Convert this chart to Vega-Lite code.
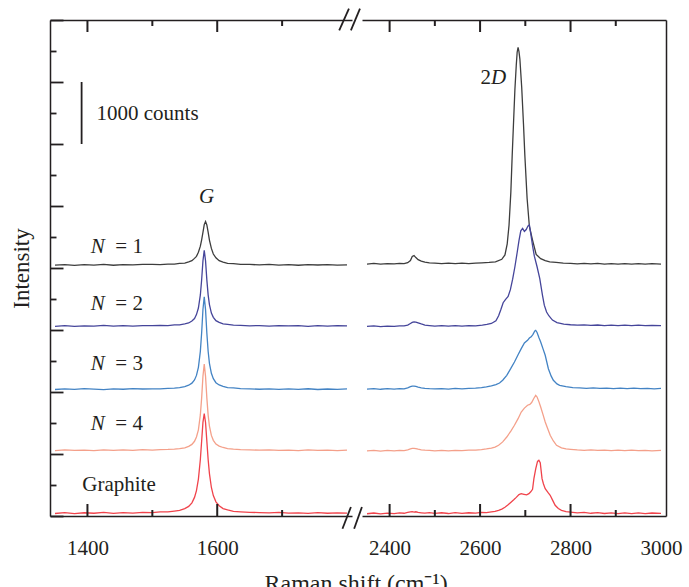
{
  "$schema": "https://vega.github.io/schema/vega-lite/v6.json",
  "background": "white",
  "padding": {"left": 10, "top": 7, "right": 5, "bottom": 5},
  "bounds": "flush",
  "spacing": 10,
  "config": {
    "view": {"stroke": null},
    "font": "Liberation Serif",
    "text": {"font": "Liberation Serif"},
    "axis": {"domainColor": "#231f20", "domainWidth": 1.5, "tickColor": "#231f20", "tickWidth": 1.8, "labelFont": "Liberation Serif", "labelFontSize": 21, "labelColor": "#231f20", "labelPadding": 21, "labelFlush": false, "titleFont": "Liberation Serif", "titleFontSize": 23, "titleFontWeight": "normal", "titleColor": "#231f20", "gridColor": "#231f20", "gridWidth": 1.5}
  },
  "title": {"text": "Raman shift (cm⁻¹)", "orient": "bottom", "anchor": "middle", "font": "Liberation Serif", "fontSize": 24, "fontWeight": "normal", "color": "#231f20", "offset": 14, "dx": 10},
  "datasets": {
    "spec": [
      {"s":"N1","x":1350,"y":4045},{"s":"N1","x":1365,"y":4056},{"s":"N1","x":1380,"y":4042},{"s":"N1","x":1395,"y":4053},{"s":"N1","x":1410,"y":4047},{"s":"N1","x":1425,"y":4058},{"s":"N1","x":1440,"y":4044},{"s":"N1","x":1455,"y":4055},{"s":"N1","x":1470,"y":4049},{"s":"N1","x":1485,"y":4057},{"s":"N1","x":1500,"y":4058},{"s":"N1","x":1512,"y":4054},{"s":"N1","x":1524,"y":4063},{"s":"N1","x":1534,"y":4062},{"s":"N1","x":1542,"y":4074},{"s":"N1","x":1550,"y":4080},{"s":"N1","x":1556,"y":4099},{"s":"N1","x":1561,"y":4118},{"s":"N1","x":1565,"y":4155},{"s":"N1","x":1568,"y":4188},{"s":"N1","x":1571,"y":4254},{"s":"N1","x":1574,"y":4352},{"s":"N1","x":1576,"y":4455},{"s":"N1","x":1578,"y":4575},{"s":"N1","x":1580,"y":4700},{"s":"N1","x":1582,"y":4750},{"s":"N1","x":1584,"y":4695},{"s":"N1","x":1586,"y":4580},{"s":"N1","x":1588,"y":4450},{"s":"N1","x":1591,"y":4316},{"s":"N1","x":1594,"y":4225},{"s":"N1","x":1598,"y":4165},{"s":"N1","x":1603,"y":4118},{"s":"N1","x":1609,"y":4096},{"s":"N1","x":1616,"y":4076},{"s":"N1","x":1625,"y":4070},{"s":"N1","x":1636,"y":4060},{"s":"N1","x":1650,"y":4058},{"s":"N1","x":1665,"y":4050},{"s":"N1","x":1680,"y":4057},{"s":"N1","x":1695,"y":4046},{"s":"N1","x":1710,"y":4053},{"s":"N1","x":1725,"y":4044},{"s":"N1","x":1740,"y":4055},{"s":"N1","x":1755,"y":4048},{"s":"N1","x":1770,"y":4056},{"s":"N1","x":1785,"y":4045},{"s":"N1","x":1800,"y":4052},
      {"s":"N1","x":2350,"y":4064},{"s":"N1","x":2365,"y":4073},{"s":"N1","x":2380,"y":4061},{"s":"N1","x":2395,"y":4070},{"s":"N1","x":2410,"y":4065},{"s":"N1","x":2422,"y":4076},{"s":"N1","x":2432,"y":4070},{"s":"N1","x":2440,"y":4085},{"s":"N1","x":2446,"y":4120},{"s":"N1","x":2450,"y":4185},{"s":"N1","x":2454,"y":4200},{"s":"N1","x":2458,"y":4168},{"s":"N1","x":2463,"y":4135},{"s":"N1","x":2470,"y":4110},{"s":"N1","x":2478,"y":4095},{"s":"N1","x":2488,"y":4082},{"s":"N1","x":2500,"y":4077},{"s":"N1","x":2515,"y":4069},{"s":"N1","x":2530,"y":4078},{"s":"N1","x":2545,"y":4070},{"s":"N1","x":2560,"y":4079},{"s":"N1","x":2575,"y":4071},{"s":"N1","x":2590,"y":4080},{"s":"N1","x":2604,"y":4084},{"s":"N1","x":2620,"y":4090},{"s":"N1","x":2634,"y":4100},{"s":"N1","x":2648,"y":4140},{"s":"N1","x":2655,"y":4210},{"s":"N1","x":2660,"y":4390},{"s":"N1","x":2664,"y":4690},{"s":"N1","x":2668,"y":5220},{"s":"N1","x":2671,"y":5815},{"s":"N1","x":2674,"y":6350},{"s":"N1","x":2677,"y":6880},{"s":"N1","x":2680,"y":7270},{"s":"N1","x":2682,"y":7480},{"s":"N1","x":2684,"y":7560},{"s":"N1","x":2686,"y":7490},{"s":"N1","x":2688,"y":7370},{"s":"N1","x":2692,"y":6920},{"s":"N1","x":2696,"y":6320},{"s":"N1","x":2699,"y":5815},{"s":"N1","x":2704,"y":5120},{"s":"N1","x":2709,"y":4670},{"s":"N1","x":2716,"y":4450},{"s":"N1","x":2724,"y":4220},{"s":"N1","x":2734,"y":4150},{"s":"N1","x":2744,"y":4118},{"s":"N1","x":2754,"y":4100},{"s":"N1","x":2768,"y":4090},{"s":"N1","x":2784,"y":4080},{"s":"N1","x":2800,"y":4075},{"s":"N1","x":2815,"y":4068},{"s":"N1","x":2830,"y":4076},{"s":"N1","x":2845,"y":4066},{"s":"N1","x":2860,"y":4073},{"s":"N1","x":2875,"y":4064},{"s":"N1","x":2890,"y":4071},{"s":"N1","x":2905,"y":4062},{"s":"N1","x":2920,"y":4070},{"s":"N1","x":2935,"y":4063},{"s":"N1","x":2950,"y":4071},{"s":"N1","x":2965,"y":4062},{"s":"N1","x":2980,"y":4069},{"s":"N1","x":3000,"y":4064},
      {"s":"N2","x":1350,"y":3060},{"s":"N2","x":1365,"y":3072},{"s":"N2","x":1380,"y":3058},{"s":"N2","x":1395,"y":3068},{"s":"N2","x":1410,"y":3062},{"s":"N2","x":1425,"y":3075},{"s":"N2","x":1440,"y":3061},{"s":"N2","x":1455,"y":3070},{"s":"N2","x":1470,"y":3064},{"s":"N2","x":1485,"y":3071},{"s":"N2","x":1500,"y":3069},{"s":"N2","x":1512,"y":3075},{"s":"N2","x":1524,"y":3072},{"s":"N2","x":1534,"y":3082},{"s":"N2","x":1542,"y":3084},{"s":"N2","x":1550,"y":3100},{"s":"N2","x":1556,"y":3114},{"s":"N2","x":1561,"y":3146},{"s":"N2","x":1565,"y":3185},{"s":"N2","x":1568,"y":3248},{"s":"N2","x":1571,"y":3355},{"s":"N2","x":1574,"y":3565},{"s":"N2","x":1576,"y":3810},{"s":"N2","x":1578,"y":4115},{"s":"N2","x":1580,"y":4285},{"s":"N2","x":1582,"y":4117},{"s":"N2","x":1584,"y":3808},{"s":"N2","x":1586,"y":3567},{"s":"N2","x":1588,"y":3410},{"s":"N2","x":1591,"y":3272},{"s":"N2","x":1594,"y":3205},{"s":"N2","x":1598,"y":3150},{"s":"N2","x":1603,"y":3124},{"s":"N2","x":1609,"y":3098},{"s":"N2","x":1616,"y":3090},{"s":"N2","x":1625,"y":3078},{"s":"N2","x":1636,"y":3076},{"s":"N2","x":1650,"y":3068},{"s":"N2","x":1665,"y":3072},{"s":"N2","x":1680,"y":3063},{"s":"N2","x":1695,"y":3070},{"s":"N2","x":1710,"y":3066},{"s":"N2","x":1725,"y":3072},{"s":"N2","x":1740,"y":3060},{"s":"N2","x":1755,"y":3069},{"s":"N2","x":1770,"y":3064},{"s":"N2","x":1785,"y":3071},{"s":"N2","x":1800,"y":3066},
      {"s":"N2","x":2350,"y":3058},{"s":"N2","x":2365,"y":3066},{"s":"N2","x":2380,"y":3055},{"s":"N2","x":2395,"y":3064},{"s":"N2","x":2410,"y":3059},{"s":"N2","x":2422,"y":3068},{"s":"N2","x":2432,"y":3066},{"s":"N2","x":2440,"y":3080},{"s":"N2","x":2446,"y":3105},{"s":"N2","x":2450,"y":3122},{"s":"N2","x":2454,"y":3132},{"s":"N2","x":2458,"y":3128},{"s":"N2","x":2463,"y":3115},{"s":"N2","x":2470,"y":3098},{"s":"N2","x":2478,"y":3080},{"s":"N2","x":2488,"y":3072},{"s":"N2","x":2500,"y":3064},{"s":"N2","x":2515,"y":3070},{"s":"N2","x":2530,"y":3061},{"s":"N2","x":2545,"y":3069},{"s":"N2","x":2560,"y":3063},{"s":"N2","x":2575,"y":3071},{"s":"N2","x":2590,"y":3068},{"s":"N2","x":2605,"y":3080},{"s":"N2","x":2615,"y":3090},{"s":"N2","x":2625,"y":3105},{"s":"N2","x":2635,"y":3150},{"s":"N2","x":2641,"y":3230},{"s":"N2","x":2646,"y":3330},{"s":"N2","x":2651,"y":3440},{"s":"N2","x":2656,"y":3490},{"s":"N2","x":2662,"y":3540},{"s":"N2","x":2667,"y":3650},{"s":"N2","x":2672,"y":3820},{"s":"N2","x":2677,"y":4020},{"s":"N2","x":2682,"y":4250},{"s":"N2","x":2686,"y":4440},{"s":"N2","x":2690,"y":4600},{"s":"N2","x":2694,"y":4640},{"s":"N2","x":2698,"y":4590},{"s":"N2","x":2702,"y":4620},{"s":"N2","x":2706,"y":4680},{"s":"N2","x":2709,"y":4695},{"s":"N2","x":2712,"y":4560},{"s":"N2","x":2716,"y":4360},{"s":"N2","x":2720,"y":4190},{"s":"N2","x":2726,"y":4020},{"s":"N2","x":2732,"y":3830},{"s":"N2","x":2738,"y":3560},{"s":"N2","x":2742,"y":3400},{"s":"N2","x":2747,"y":3290},{"s":"N2","x":2752,"y":3230},{"s":"N2","x":2760,"y":3160},{"s":"N2","x":2770,"y":3120},{"s":"N2","x":2785,"y":3095},{"s":"N2","x":2800,"y":3085},{"s":"N2","x":2815,"y":3078},{"s":"N2","x":2830,"y":3084},{"s":"N2","x":2845,"y":3074},{"s":"N2","x":2860,"y":3081},{"s":"N2","x":2875,"y":3072},{"s":"N2","x":2890,"y":3079},{"s":"N2","x":2905,"y":3071},{"s":"N2","x":2920,"y":3078},{"s":"N2","x":2935,"y":3070},{"s":"N2","x":2950,"y":3077},{"s":"N2","x":2965,"y":3069},{"s":"N2","x":2980,"y":3076},{"s":"N2","x":3000,"y":3071},
      {"s":"N3","x":1350,"y":2040},{"s":"N3","x":1365,"y":2050},{"s":"N3","x":1380,"y":2042},{"s":"N3","x":1395,"y":2053},{"s":"N3","x":1410,"y":2046},{"s":"N3","x":1425,"y":2038},{"s":"N3","x":1440,"y":2051},{"s":"N3","x":1455,"y":2044},{"s":"N3","x":1470,"y":2055},{"s":"N3","x":1485,"y":2048},{"s":"N3","x":1500,"y":2052},{"s":"N3","x":1512,"y":2049},{"s":"N3","x":1524,"y":2060},{"s":"N3","x":1534,"y":2062},{"s":"N3","x":1542,"y":2071},{"s":"N3","x":1550,"y":2087},{"s":"N3","x":1556,"y":2110},{"s":"N3","x":1561,"y":2143},{"s":"N3","x":1565,"y":2195},{"s":"N3","x":1568,"y":2268},{"s":"N3","x":1571,"y":2398},{"s":"N3","x":1574,"y":2656},{"s":"N3","x":1576,"y":2955},{"s":"N3","x":1578,"y":3330},{"s":"N3","x":1580,"y":3535},{"s":"N3","x":1582,"y":3328},{"s":"N3","x":1584,"y":2953},{"s":"N3","x":1586,"y":2658},{"s":"N3","x":1588,"y":2462},{"s":"N3","x":1591,"y":2302},{"s":"N3","x":1594,"y":2215},{"s":"N3","x":1598,"y":2150},{"s":"N3","x":1603,"y":2114},{"s":"N3","x":1609,"y":2090},{"s":"N3","x":1616,"y":2071},{"s":"N3","x":1625,"y":2066},{"s":"N3","x":1636,"y":2055},{"s":"N3","x":1650,"y":2052},{"s":"N3","x":1665,"y":2044},{"s":"N3","x":1680,"y":2051},{"s":"N3","x":1695,"y":2041},{"s":"N3","x":1710,"y":2049},{"s":"N3","x":1725,"y":2043},{"s":"N3","x":1740,"y":2052},{"s":"N3","x":1755,"y":2040},{"s":"N3","x":1770,"y":2048},{"s":"N3","x":1785,"y":2043},{"s":"N3","x":1800,"y":2050},
      {"s":"N3","x":2350,"y":2046},{"s":"N3","x":2365,"y":2055},{"s":"N3","x":2380,"y":2044},{"s":"N3","x":2395,"y":2053},{"s":"N3","x":2410,"y":2047},{"s":"N3","x":2422,"y":2056},{"s":"N3","x":2432,"y":2052},{"s":"N3","x":2440,"y":2066},{"s":"N3","x":2446,"y":2085},{"s":"N3","x":2450,"y":2094},{"s":"N3","x":2454,"y":2096},{"s":"N3","x":2458,"y":2090},{"s":"N3","x":2463,"y":2080},{"s":"N3","x":2470,"y":2068},{"s":"N3","x":2478,"y":2060},{"s":"N3","x":2488,"y":2054},{"s":"N3","x":2500,"y":2049},{"s":"N3","x":2515,"y":2056},{"s":"N3","x":2530,"y":2048},{"s":"N3","x":2545,"y":2057},{"s":"N3","x":2560,"y":2052},{"s":"N3","x":2575,"y":2059},{"s":"N3","x":2590,"y":2061},{"s":"N3","x":2603,"y":2070},{"s":"N3","x":2614,"y":2082},{"s":"N3","x":2625,"y":2100},{"s":"N3","x":2635,"y":2120},{"s":"N3","x":2643,"y":2145},{"s":"N3","x":2650,"y":2190},{"s":"N3","x":2659,"y":2269},{"s":"N3","x":2668,"y":2380},{"s":"N3","x":2676,"y":2484},{"s":"N3","x":2684,"y":2600},{"s":"N3","x":2691,"y":2699},{"s":"N3","x":2698,"y":2790},{"s":"N3","x":2705,"y":2834},{"s":"N3","x":2709,"y":2870},{"s":"N3","x":2713,"y":2890},{"s":"N3","x":2717,"y":2930},{"s":"N3","x":2721,"y":2985},{"s":"N3","x":2723,"y":2995},{"s":"N3","x":2726,"y":2960},{"s":"N3","x":2730,"y":2880},{"s":"N3","x":2734,"y":2807},{"s":"N3","x":2739,"y":2700},{"s":"N3","x":2744,"y":2592},{"s":"N3","x":2751,"y":2376},{"s":"N3","x":2757,"y":2260},{"s":"N3","x":2762,"y":2189},{"s":"N3","x":2770,"y":2130},{"s":"N3","x":2776,"y":2108},{"s":"N3","x":2790,"y":2085},{"s":"N3","x":2805,"y":2072},{"s":"N3","x":2820,"y":2066},{"s":"N3","x":2835,"y":2060},{"s":"N3","x":2850,"y":2066},{"s":"N3","x":2865,"y":2057},{"s":"N3","x":2880,"y":2063},{"s":"N3","x":2895,"y":2055},{"s":"N3","x":2910,"y":2062},{"s":"N3","x":2925,"y":2054},{"s":"N3","x":2940,"y":2061},{"s":"N3","x":2955,"y":2053},{"s":"N3","x":2970,"y":2060},{"s":"N3","x":2985,"y":2052},{"s":"N3","x":3000,"y":2058},
      {"s":"N4","x":1350,"y":1055},{"s":"N4","x":1365,"y":1066},{"s":"N4","x":1380,"y":1058},{"s":"N4","x":1395,"y":1063},{"s":"N4","x":1410,"y":1054},{"s":"N4","x":1425,"y":1067},{"s":"N4","x":1440,"y":1060},{"s":"N4","x":1455,"y":1065},{"s":"N4","x":1470,"y":1057},{"s":"N4","x":1485,"y":1069},{"s":"N4","x":1500,"y":1064},{"s":"N4","x":1512,"y":1071},{"s":"N4","x":1524,"y":1073},{"s":"N4","x":1534,"y":1078},{"s":"N4","x":1542,"y":1087},{"s":"N4","x":1550,"y":1100},{"s":"N4","x":1556,"y":1123},{"s":"N4","x":1561,"y":1155},{"s":"N4","x":1565,"y":1205},{"s":"N4","x":1568,"y":1275},{"s":"N4","x":1571,"y":1390},{"s":"N4","x":1574,"y":1630},{"s":"N4","x":1576,"y":1905},{"s":"N4","x":1578,"y":2255},{"s":"N4","x":1580,"y":2450},{"s":"N4","x":1582,"y":2253},{"s":"N4","x":1584,"y":1905},{"s":"N4","x":1586,"y":1628},{"s":"N4","x":1588,"y":1450},{"s":"N4","x":1591,"y":1300},{"s":"N4","x":1594,"y":1220},{"s":"N4","x":1598,"y":1161},{"s":"N4","x":1603,"y":1127},{"s":"N4","x":1609,"y":1105},{"s":"N4","x":1616,"y":1088},{"s":"N4","x":1625,"y":1079},{"s":"N4","x":1636,"y":1072},{"s":"N4","x":1650,"y":1068},{"s":"N4","x":1665,"y":1061},{"s":"N4","x":1680,"y":1066},{"s":"N4","x":1695,"y":1058},{"s":"N4","x":1710,"y":1064},{"s":"N4","x":1725,"y":1056},{"s":"N4","x":1740,"y":1065},{"s":"N4","x":1755,"y":1059},{"s":"N4","x":1770,"y":1063},{"s":"N4","x":1785,"y":1055},{"s":"N4","x":1800,"y":1062},
      {"s":"N4","x":2350,"y":1050},{"s":"N4","x":2365,"y":1059},{"s":"N4","x":2380,"y":1048},{"s":"N4","x":2395,"y":1057},{"s":"N4","x":2410,"y":1051},{"s":"N4","x":2422,"y":1060},{"s":"N4","x":2432,"y":1056},{"s":"N4","x":2440,"y":1068},{"s":"N4","x":2446,"y":1082},{"s":"N4","x":2450,"y":1090},{"s":"N4","x":2454,"y":1092},{"s":"N4","x":2458,"y":1086},{"s":"N4","x":2463,"y":1078},{"s":"N4","x":2470,"y":1068},{"s":"N4","x":2478,"y":1062},{"s":"N4","x":2488,"y":1057},{"s":"N4","x":2500,"y":1052},{"s":"N4","x":2515,"y":1059},{"s":"N4","x":2530,"y":1051},{"s":"N4","x":2545,"y":1060},{"s":"N4","x":2560,"y":1055},{"s":"N4","x":2575,"y":1062},{"s":"N4","x":2590,"y":1064},{"s":"N4","x":2603,"y":1072},{"s":"N4","x":2614,"y":1082},{"s":"N4","x":2625,"y":1095},{"s":"N4","x":2633,"y":1112},{"s":"N4","x":2641,"y":1140},{"s":"N4","x":2650,"y":1195},{"s":"N4","x":2659,"y":1274},{"s":"N4","x":2668,"y":1370},{"s":"N4","x":2676,"y":1463},{"s":"N4","x":2684,"y":1570},{"s":"N4","x":2691,"y":1677},{"s":"N4","x":2698,"y":1740},{"s":"N4","x":2705,"y":1786},{"s":"N4","x":2710,"y":1800},{"s":"N4","x":2714,"y":1830},{"s":"N4","x":2719,"y":1900},{"s":"N4","x":2723,"y":1947},{"s":"N4","x":2726,"y":1920},{"s":"N4","x":2730,"y":1845},{"s":"N4","x":2734,"y":1758},{"s":"N4","x":2739,"y":1640},{"s":"N4","x":2744,"y":1516},{"s":"N4","x":2750,"y":1400},{"s":"N4","x":2755,"y":1302},{"s":"N4","x":2762,"y":1210},{"s":"N4","x":2769,"y":1140},{"s":"N4","x":2780,"y":1100},{"s":"N4","x":2790,"y":1082},{"s":"N4","x":2800,"y":1075},{"s":"N4","x":2815,"y":1066},{"s":"N4","x":2830,"y":1060},{"s":"N4","x":2845,"y":1066},{"s":"N4","x":2860,"y":1057},{"s":"N4","x":2875,"y":1063},{"s":"N4","x":2890,"y":1055},{"s":"N4","x":2905,"y":1062},{"s":"N4","x":2920,"y":1054},{"s":"N4","x":2935,"y":1061},{"s":"N4","x":2950,"y":1053},{"s":"N4","x":2965,"y":1060},{"s":"N4","x":2980,"y":1052},{"s":"N4","x":3000,"y":1058},
      {"s":"G","x":1350,"y":40},{"s":"G","x":1365,"y":55},{"s":"G","x":1380,"y":38},{"s":"G","x":1395,"y":52},{"s":"G","x":1410,"y":44},{"s":"G","x":1425,"y":58},{"s":"G","x":1440,"y":41},{"s":"G","x":1455,"y":54},{"s":"G","x":1470,"y":47},{"s":"G","x":1485,"y":60},{"s":"G","x":1500,"y":55},{"s":"G","x":1512,"y":66},{"s":"G","x":1524,"y":65},{"s":"G","x":1534,"y":80},{"s":"G","x":1542,"y":92},{"s":"G","x":1550,"y":118},{"s":"G","x":1556,"y":155},{"s":"G","x":1561,"y":212},{"s":"G","x":1565,"y":300},{"s":"G","x":1568,"y":410},{"s":"G","x":1571,"y":596},{"s":"G","x":1574,"y":912},{"s":"G","x":1576,"y":1210},{"s":"G","x":1578,"y":1510},{"s":"G","x":1580,"y":1650},{"s":"G","x":1582,"y":1508},{"s":"G","x":1584,"y":1208},{"s":"G","x":1586,"y":912},{"s":"G","x":1588,"y":684},{"s":"G","x":1591,"y":460},{"s":"G","x":1594,"y":330},{"s":"G","x":1598,"y":228},{"s":"G","x":1603,"y":165},{"s":"G","x":1609,"y":120},{"s":"G","x":1616,"y":98},{"s":"G","x":1625,"y":76},{"s":"G","x":1636,"y":68},{"s":"G","x":1650,"y":58},{"s":"G","x":1665,"y":56},{"s":"G","x":1680,"y":50},{"s":"G","x":1695,"y":57},{"s":"G","x":1710,"y":45},{"s":"G","x":1725,"y":52},{"s":"G","x":1740,"y":42},{"s":"G","x":1755,"y":55},{"s":"G","x":1770,"y":44},{"s":"G","x":1785,"y":51},{"s":"G","x":1800,"y":46},
      {"s":"G","x":2350,"y":36},{"s":"G","x":2365,"y":48},{"s":"G","x":2380,"y":33},{"s":"G","x":2395,"y":46},{"s":"G","x":2410,"y":38},{"s":"G","x":2422,"y":50},{"s":"G","x":2432,"y":44},{"s":"G","x":2440,"y":58},{"s":"G","x":2446,"y":66},{"s":"G","x":2450,"y":70},{"s":"G","x":2454,"y":64},{"s":"G","x":2458,"y":68},{"s":"G","x":2463,"y":58},{"s":"G","x":2470,"y":52},{"s":"G","x":2478,"y":46},{"s":"G","x":2488,"y":55},{"s":"G","x":2500,"y":42},{"s":"G","x":2515,"y":52},{"s":"G","x":2530,"y":40},{"s":"G","x":2545,"y":54},{"s":"G","x":2560,"y":43},{"s":"G","x":2575,"y":52},{"s":"G","x":2590,"y":47},{"s":"G","x":2603,"y":58},{"s":"G","x":2614,"y":55},{"s":"G","x":2625,"y":66},{"s":"G","x":2633,"y":74},{"s":"G","x":2641,"y":92},{"s":"G","x":2648,"y":112},{"s":"G","x":2655,"y":140},{"s":"G","x":2662,"y":180},{"s":"G","x":2669,"y":226},{"s":"G","x":2675,"y":265},{"s":"G","x":2680,"y":300},{"s":"G","x":2686,"y":345},{"s":"G","x":2691,"y":360},{"s":"G","x":2697,"y":350},{"s":"G","x":2703,"y":340},{"s":"G","x":2708,"y":360},{"s":"G","x":2712,"y":390},{"s":"G","x":2716,"y":430},{"s":"G","x":2719,"y":602},{"s":"G","x":2723,"y":760},{"s":"G","x":2727,"y":880},{"s":"G","x":2730,"y":898},{"s":"G","x":2733,"y":860},{"s":"G","x":2737,"y":602},{"s":"G","x":2740,"y":520},{"s":"G","x":2744,"y":440},{"s":"G","x":2750,"y":380},{"s":"G","x":2755,"y":334},{"s":"G","x":2760,"y":260},{"s":"G","x":2766,"y":173},{"s":"G","x":2773,"y":120},{"s":"G","x":2780,"y":92},{"s":"G","x":2790,"y":70},{"s":"G","x":2800,"y":62},{"s":"G","x":2815,"y":50},{"s":"G","x":2830,"y":57},{"s":"G","x":2845,"y":44},{"s":"G","x":2860,"y":53},{"s":"G","x":2875,"y":40},{"s":"G","x":2890,"y":51},{"s":"G","x":2905,"y":38},{"s":"G","x":2920,"y":49},{"s":"G","x":2935,"y":37},{"s":"G","x":2950,"y":50},{"s":"G","x":2965,"y":39},{"s":"G","x":2980,"y":48},{"s":"G","x":3000,"y":42}
    ],
    "ann": [
      {"p":"L","it":1,"t":"N","x":1405,"y":4339},
      {"p":"L","it":0,"t":"= 1","x":1443,"y":4339},
      {"p":"L","it":1,"t":"N","x":1405,"y":3420},
      {"p":"L","it":0,"t":"= 2","x":1443,"y":3420},
      {"p":"L","it":1,"t":"N","x":1405,"y":2452},
      {"p":"L","it":0,"t":"= 3","x":1443,"y":2452},
      {"p":"L","it":1,"t":"N","x":1405,"y":1484},
      {"p":"L","it":0,"t":"= 4","x":1443,"y":1484},
      {"p":"L","it":0,"t":"Graphite","x":1392,"y":500},
      {"p":"L","it":1,"t":"G","x":1572,"y":5145},
      {"p":"L","it":0,"t":"1000 counts","x":1414,"y":6489},
      {"p":"R","it":0,"t":"2","x":2601,"y":7065},
      {"p":"R","it":1,"t":"D","x":2624,"y":7065}
    ],
    "rules": [
      {"x":1788,"x2":1803,"y":7834,"y2":8183},
      {"x":1806,"x2":1820,"y":7834,"y2":8183},
      {"x":1793,"x2":1806,"y":-205,"y2":145},
      {"x":1811,"x2":1823,"y":-205,"y2":145},
      {"x":1391,"x2":1391,"y":6000,"y2":7000}
    ],
    "ticks": [
      {"x":1400,"y":8000,"y2":7806},{"x":1500,"y":8000,"y2":7903},{"x":1600,"y":8000,"y2":7806},{"x":1700,"y":8000,"y2":7903},
      {"x":1400,"y":0,"y2":194},{"x":1500,"y":0,"y2":97},{"x":1600,"y":0,"y2":194},{"x":1700,"y":0,"y2":97},
      {"x":2400,"y":8000,"y2":7806},{"x":2500,"y":8000,"y2":7903},{"x":2600,"y":8000,"y2":7806},{"x":2700,"y":8000,"y2":7903},{"x":2800,"y":8000,"y2":7806},{"x":2900,"y":8000,"y2":7903},
      {"x":2400,"y":0,"y2":194},{"x":2500,"y":0,"y2":97},{"x":2600,"y":0,"y2":194},{"x":2700,"y":0,"y2":97},{"x":2800,"y":0,"y2":194},{"x":2900,"y":0,"y2":97}
    ]
  },
  "hconcat": [
    {
      "width": 302,
      "height": 496,
      "layer": [
        {
          "data": {"name": "spec"},
          "transform": [{"filter": "datum.x <= 1800"}],
          "mark": {"type": "line", "strokeWidth": 1.3, "clip": false},
          "encoding": {
            "x": {"field": "x", "type": "quantitative", "scale": {"domain": [1350, 1800], "nice": false, "zero": false},
              "axis": {"orient": "bottom", "values": [1400, 1500, 1600, 1700], "title": null, "format": "d", "labelExpr": "datum.value % 200 === 0 ? datum.label : ''", "ticks": false, "grid": false}},
            "y": {"field": "y", "type": "quantitative", "scale": {"domain": [0, 8000], "nice": false, "zero": false},
              "axis": {"orient": "left", "values": [0,500,1000,1500,2000,2500,3000,3500,4000,4500,5000,5500,6000,6500,7000,7500,8000], "labels": false, "title": "Intensity", "titlePadding": 16, "tickSize": {"condition": {"test": "datum.value % 1000 === 0", "value": -13}, "value": -6}, "grid": true, "gridOpacity": {"condition": {"test": "datum.value === 8000", "value": 1}, "value": 0}}},
            "color": {"field": "s", "type": "nominal", "scale": {"domain": ["N1", "N2", "N3", "N4", "G"], "range": ["#3d3d3d", "#45459a", "#4383c4", "#f4a08a", "#f0434b"]}, "legend": null}
          }
        },
        {
          "data": {"name": "rules"},
          "mark": {"type": "rule", "strokeWidth": 1.8, "color": "#231f20", "clip": false},
          "encoding": {
            "x": {"field": "x", "type": "quantitative", "scale": {"domain": [1350, 1800], "nice": false, "zero": false},
              "axis": {"orient": "bottom", "values": [1400, 1500, 1600, 1700], "title": null, "format": "d", "labelExpr": "datum.value % 200 === 0 ? datum.label : ''", "ticks": false, "grid": false}},
            "x2": {"field": "x2"},
            "y": {"field": "y", "type": "quantitative", "scale": {"domain": [0, 8000], "nice": false, "zero": false},
              "axis": {"orient": "left", "values": [0,500,1000,1500,2000,2500,3000,3500,4000,4500,5000,5500,6000,6500,7000,7500,8000], "labels": false, "title": "Intensity", "titlePadding": 16, "tickSize": {"condition": {"test": "datum.value % 1000 === 0", "value": -13}, "value": -6}, "grid": true, "gridOpacity": {"condition": {"test": "datum.value === 8000", "value": 1}, "value": 0}}},
            "y2": {"field": "y2"}
          }
        },
        {
          "data": {"name": "ticks"},
          "transform": [{"filter": "datum.x <= 1800"}],
          "mark": {"type": "bar", "size": 2, "color": "#231f20", "clip": false},
          "encoding": {
            "x": {"field": "x", "type": "quantitative", "scale": {"domain": [1350, 1800], "nice": false, "zero": false},
              "axis": {"orient": "bottom", "values": [1400, 1500, 1600, 1700], "title": null, "format": "d", "labelExpr": "datum.value % 200 === 0 ? datum.label : ''", "ticks": false, "grid": false}},
            "y": {"field": "y", "type": "quantitative", "scale": {"domain": [0, 8000], "nice": false, "zero": false},
              "axis": {"orient": "left", "values": [0,500,1000,1500,2000,2500,3000,3500,4000,4500,5000,5500,6000,6500,7000,7500,8000], "labels": false, "title": "Intensity", "titlePadding": 16, "tickSize": {"condition": {"test": "datum.value % 1000 === 0", "value": -13}, "value": -6}, "grid": true, "gridOpacity": {"condition": {"test": "datum.value === 8000", "value": 1}, "value": 0}}},
            "y2": {"field": "y2"}
          }
        },
        {
          "data": {"name": "ann"},
          "transform": [{"filter": "datum.p === 'L' && datum.it === 1"}],
          "mark": {"type": "text", "align": "left", "baseline": "middle", "fontSize": 21, "fontStyle": "italic", "font": "Liberation Serif", "color": "#231f20"},
          "encoding": {
            "x": {"field": "x", "type": "quantitative", "scale": {"domain": [1350, 1800], "nice": false, "zero": false},
              "axis": {"orient": "bottom", "values": [1400, 1500, 1600, 1700], "title": null, "format": "d", "labelExpr": "datum.value % 200 === 0 ? datum.label : ''", "ticks": false, "grid": false}},
            "y": {"field": "y", "type": "quantitative", "scale": {"domain": [0, 8000], "nice": false, "zero": false},
              "axis": {"orient": "left", "values": [0,500,1000,1500,2000,2500,3000,3500,4000,4500,5000,5500,6000,6500,7000,7500,8000], "labels": false, "title": "Intensity", "titlePadding": 16, "tickSize": {"condition": {"test": "datum.value % 1000 === 0", "value": -13}, "value": -6}, "grid": true, "gridOpacity": {"condition": {"test": "datum.value === 8000", "value": 1}, "value": 0}}},
            "text": {"field": "t"}
          }
        },
        {
          "data": {"name": "ann"},
          "transform": [{"filter": "datum.p === 'L' && datum.it === 0"}],
          "mark": {"type": "text", "align": "left", "baseline": "middle", "fontSize": 21, "font": "Liberation Serif", "color": "#231f20"},
          "encoding": {
            "x": {"field": "x", "type": "quantitative", "scale": {"domain": [1350, 1800], "nice": false, "zero": false},
              "axis": {"orient": "bottom", "values": [1400, 1500, 1600, 1700], "title": null, "format": "d", "labelExpr": "datum.value % 200 === 0 ? datum.label : ''", "ticks": false, "grid": false}},
            "y": {"field": "y", "type": "quantitative", "scale": {"domain": [0, 8000], "nice": false, "zero": false},
              "axis": {"orient": "left", "values": [0,500,1000,1500,2000,2500,3000,3500,4000,4500,5000,5500,6000,6500,7000,7500,8000], "labels": false, "title": "Intensity", "titlePadding": 16, "tickSize": {"condition": {"test": "datum.value % 1000 === 0", "value": -13}, "value": -6}, "grid": true, "gridOpacity": {"condition": {"test": "datum.value === 8000", "value": 1}, "value": 0}}},
            "text": {"field": "t"}
          }
        }
      ]
    },
    {
      "width": 304,
      "height": 496,
      "layer": [
        {
          "data": {"name": "spec"},
          "transform": [{"filter": "datum.x >= 2350"}],
          "mark": {"type": "line", "strokeWidth": 1.3, "clip": false},
          "encoding": {
            "x": {"field": "x", "type": "quantitative", "scale": {"domain": [2350, 3000], "nice": false, "zero": false},
              "axis": {"orient": "bottom", "values": [2400, 2500, 2600, 2700, 2800, 2900, 3000], "title": null, "format": "d", "labelExpr": "datum.value % 200 === 0 ? datum.label : ''", "ticks": false, "grid": false}},
            "y": {"field": "y", "type": "quantitative", "scale": {"domain": [0, 8000], "nice": false, "zero": false},
              "axis": {"orient": "right", "values": [8000], "ticks": false, "labels": false, "title": null, "grid": true}},
            "color": {"field": "s", "type": "nominal", "scale": {"domain": ["N1", "N2", "N3", "N4", "G"], "range": ["#3d3d3d", "#45459a", "#4383c4", "#f4a08a", "#f0434b"]}, "legend": null}
          }
        },
        {
          "data": {"name": "ticks"},
          "transform": [{"filter": "datum.x >= 2350"}],
          "mark": {"type": "bar", "size": 2, "color": "#231f20", "clip": false},
          "encoding": {
            "x": {"field": "x", "type": "quantitative", "scale": {"domain": [2350, 3000], "nice": false, "zero": false},
              "axis": {"orient": "bottom", "values": [2400, 2500, 2600, 2700, 2800, 2900, 3000], "title": null, "format": "d", "labelExpr": "datum.value % 200 === 0 ? datum.label : ''", "ticks": false, "grid": false}},
            "y": {"field": "y", "type": "quantitative", "scale": {"domain": [0, 8000], "nice": false, "zero": false},
              "axis": {"orient": "right", "values": [8000], "ticks": false, "labels": false, "title": null, "grid": true}},
            "y2": {"field": "y2"}
          }
        },
        {
          "data": {"name": "ann"},
          "transform": [{"filter": "datum.p === 'R' && datum.it === 0"}],
          "mark": {"type": "text", "align": "left", "baseline": "middle", "fontSize": 21, "font": "Liberation Serif", "color": "#231f20"},
          "encoding": {
            "x": {"field": "x", "type": "quantitative", "scale": {"domain": [2350, 3000], "nice": false, "zero": false},
              "axis": {"orient": "bottom", "values": [2400, 2500, 2600, 2700, 2800, 2900, 3000], "title": null, "format": "d", "labelExpr": "datum.value % 200 === 0 ? datum.label : ''", "ticks": false, "grid": false}},
            "y": {"field": "y", "type": "quantitative", "scale": {"domain": [0, 8000], "nice": false, "zero": false},
              "axis": {"orient": "right", "values": [8000], "ticks": false, "labels": false, "title": null, "grid": true}},
            "text": {"field": "t"}
          }
        },
        {
          "data": {"name": "ann"},
          "transform": [{"filter": "datum.p === 'R' && datum.it === 1"}],
          "mark": {"type": "text", "align": "left", "baseline": "middle", "fontSize": 21, "fontStyle": "italic", "font": "Liberation Serif", "color": "#231f20"},
          "encoding": {
            "x": {"field": "x", "type": "quantitative", "scale": {"domain": [2350, 3000], "nice": false, "zero": false},
              "axis": {"orient": "bottom", "values": [2400, 2500, 2600, 2700, 2800, 2900, 3000], "title": null, "format": "d", "labelExpr": "datum.value % 200 === 0 ? datum.label : ''", "ticks": false, "grid": false}},
            "y": {"field": "y", "type": "quantitative", "scale": {"domain": [0, 8000], "nice": false, "zero": false},
              "axis": {"orient": "right", "values": [8000], "ticks": false, "labels": false, "title": null, "grid": true}},
            "text": {"field": "t"}
          }
        }
      ]
    }
  ]
}
